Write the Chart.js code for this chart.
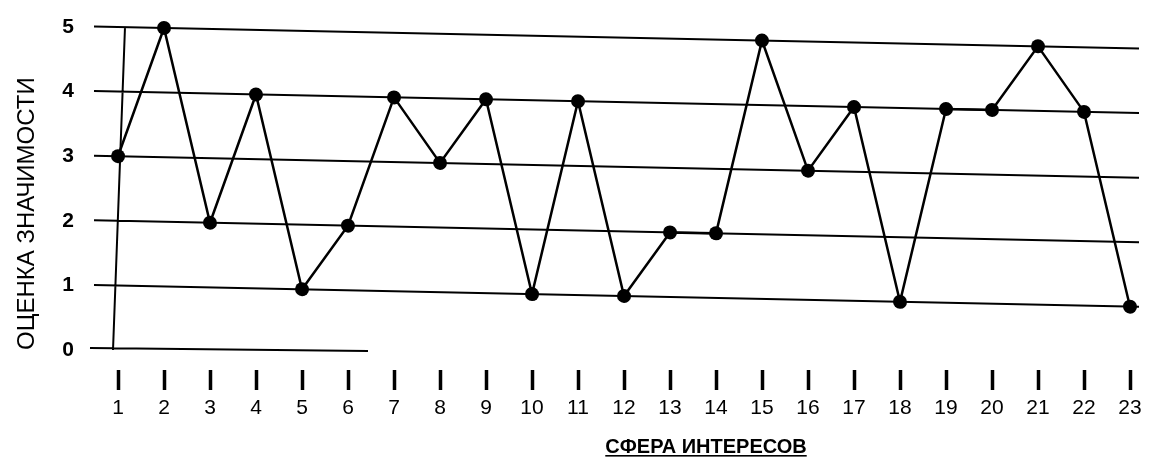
<!DOCTYPE html>
<html lang="ru">
<head>
<meta charset="utf-8">
<title>Оценка значимости</title>
<script src="https://cdn.jsdelivr.net/npm/chart.js@4.4.1/dist/chart.umd.min.js"></script>
<style>
  html, body { margin: 0; padding: 0; background: #fff; }
  #wrap { width: 1153px; height: 458px; }
</style>
</head>
<body>
<div id="wrap"><canvas id="interestChart" width="1153" height="458"></canvas></div>
<script>
// sphere of interest numbers along the bottom
const spheres = ['1', '2', '3', '4', '5', '6', '7', '8', '9', '10', '11', '12',
  '13', '14', '15', '16', '17', '18', '19', '20', '21', '22', '23'];
// significance score for each sphere
const scores = [3, 5, 2, 4, 1, 2, 4, 3, 4, 1, 4, 1, 2, 2, 5, 3, 4, 1, 4, 4, 5, 4, 1];
const gridValues = [1, 2, 3, 4, 5];
const yTitle = 'ОЦЕНКА ЗНАЧИМОСТИ';
const xTitle = 'СФЕРА ИНТЕРЕСОВ';

// the original drawing was scanned a little crooked: lines drop ~2px per 100px
const SLANT = 0.021;

const scanLook = {
  id: 'scanLook',
  beforeDatasetsDraw(chart) {
    const { ctx, scales: { x, y } } = chart;
    const x0 = x.left;
    const at = (v, px) => y.getPixelForValue(v) + SLANT * (px - x0);
    ctx.save();
    ctx.strokeStyle = '#000';
    ctx.lineWidth = 2;
    ctx.beginPath();
    gridValues.forEach(v => {
      ctx.moveTo(x0 - 24, at(v, x0 - 24));
      ctx.lineTo(x.right + 9, at(v, x.right + 9));
    });
    // short baseline and the leaning vertical axis
    ctx.moveTo(x0 - 28, y.getPixelForValue(0) - 2);
    ctx.lineTo(x0 + 250, y.getPixelForValue(0) + 1);
    ctx.moveTo(x0 + 7, y.getPixelForValue(5));
    ctx.lineTo(x0 - 5, y.getPixelForValue(0));
    ctx.stroke();
    ctx.restore();

    ctx.save();
    ctx.transform(1, SLANT, 0, 1, 0, -SLANT * x0);
  },
  afterDatasetsDraw(chart) {
    chart.ctx.restore();
  },
  afterDraw(chart) {
    const { ctx } = chart;
    ctx.save();
    ctx.font = 'bold 20px "Liberation Sans", Arial, sans-serif';
    ctx.fillStyle = '#000';
    ctx.textAlign = 'center';
    ctx.textBaseline = 'alphabetic';
    const cx = 706, base = 453;
    ctx.fillText(xTitle, cx, base);
    const w = ctx.measureText(xTitle).width;
    ctx.fillRect(cx - w / 2, base + 2, w, 1.6);
    ctx.restore();
  }
};

const ctx = document.getElementById('interestChart').getContext('2d');
new Chart(ctx, {
  type: 'line',
  data: {
    labels: spheres,
    datasets: [{
      data: scores,
      borderColor: '#000',
      borderWidth: 2.5,
      tension: 0,
      clip: false,
      pointRadius: 7,
      pointHoverRadius: 7,
      pointBackgroundColor: '#000',
      pointBorderColor: '#000',
      pointBorderWidth: 0
    }]
  },
  options: {
    responsive: false,
    animation: false,
    events: [],
    layout: { padding: { top: 27, right: 23, bottom: 0, left: 0 } },
    plugins: {
      legend: { display: false },
      tooltip: { enabled: false }
    },
    scales: {
      x: {
        type: 'category',
        offset: false,
        border: { display: false },
        grid: {
          display: true,
          drawOnChartArea: false,
          drawTicks: true,
          tickLength: 43,
          tickWidth: 3.5,
          tickColor: '#000',
          tickBorderDash: [0, 20, 20, 20]
        },
        ticks: {
          color: '#000',
          padding: 3,
          maxRotation: 0,
          autoSkip: false,
          font: { family: '"Liberation Sans", Arial, sans-serif', size: 21 }
        },
        afterFit(scale) { scale.height = 108; }
      },
      y: {
        min: 0,
        max: 5,
        border: { display: false },
        grid: { display: false },
        ticks: {
          stepSize: 1,
          color: '#000',
          padding: 36,
          font: { family: '"Liberation Sans", Arial, sans-serif', size: 21, weight: 'bold' }
        },
        title: {
          display: true,
          text: yTitle,
          align: 'start',
          color: '#000',
          padding: { top: 13, bottom: 0 },
          font: { family: '"Liberation Sans", Arial, sans-serif', size: 24 }
        },
        afterFit(scale) {
          scale.width = 118;
          scale.paddingTop = 0;
          scale.paddingBottom = 0;
        }
      }
    }
  },
  plugins: [scanLook]
});
</script>
</body>
</html>
